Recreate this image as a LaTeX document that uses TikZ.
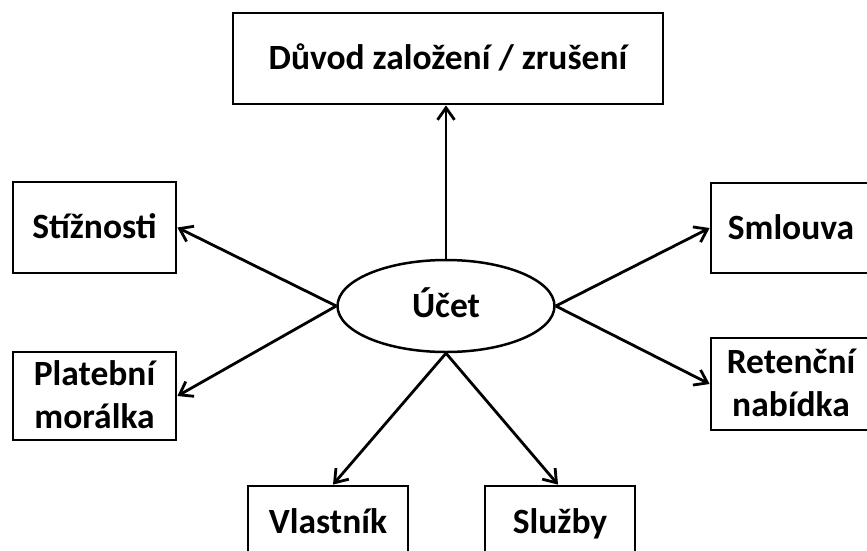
\documentclass[tikz,border=0pt]{standalone}
\usepackage{fontspec}
\setmainfont{Carlito}
\usetikzlibrary{shapes.geometric,arrows.meta}
\begin{document}
\begin{tikzpicture}[x=1pt,y=-1pt,
  box/.style={draw,line width=2.8pt,inner sep=0pt,font=\fontsize{35.5}{43}\selectfont\bfseries,text height=22.5pt,text depth=0pt,align=center},
  twoline/.style={text height=65.5pt,text depth=0pt},
  ell/.style={draw,ellipse,line width=2.5pt,inner sep=0pt,font=\fontsize{35.5}{43}\selectfont\bfseries,text height=22.5pt,text depth=0pt},
  arr/.style={line width=2.8pt,-{Straight Barb[length=12pt,width=17pt]}}]
\useasboundingbox (0,0) rectangle (867,550);
\clip (0,0) rectangle (867,550);
\node[box,minimum width=430pt,minimum height=91pt] (top) at (448,58.5) {Důvod založení / zrušení};
\node[box,minimum width=163pt,minimum height=91pt] (stiz) at (94.5,227.5) {Stížnosti};
\node[box,twoline,minimum width=163pt,minimum height=88pt] (plat) at (94.5,396) {Platební\\morálka};
\node[box,minimum width=160pt,minimum height=90pt] (sml) at (791,228) {Smlouva};
\node[box,twoline,minimum width=160pt,minimum height=92pt] (ret) at (791,384) {Retenční\\nabídka};
\node[box,minimum width=160pt,minimum height=72pt] (vl) at (328,522) {Vlastník};
\node[box,minimum width=150pt,minimum height=72pt] (sl) at (560,522) {Služby};
\node[ell,minimum width=217pt,minimum height=92pt] (ucet) at (446,306) {Účet};
\draw[arr] (ucet.north) -- (ucet.north |- top.south);
\draw[arr] (ucet.west) -- (stiz.east);
\draw[arr] (ucet.west) -- (plat.east);
\draw[arr] (ucet.east) -- (sml.west);
\draw[arr] (ucet.east) -- (ret.west);
\draw[arr] (ucet.south) -- ([xshift=5pt]vl.north);
\draw[arr] (ucet.south) -- ([xshift=-2pt]sl.north);
\end{tikzpicture}
\end{document}
